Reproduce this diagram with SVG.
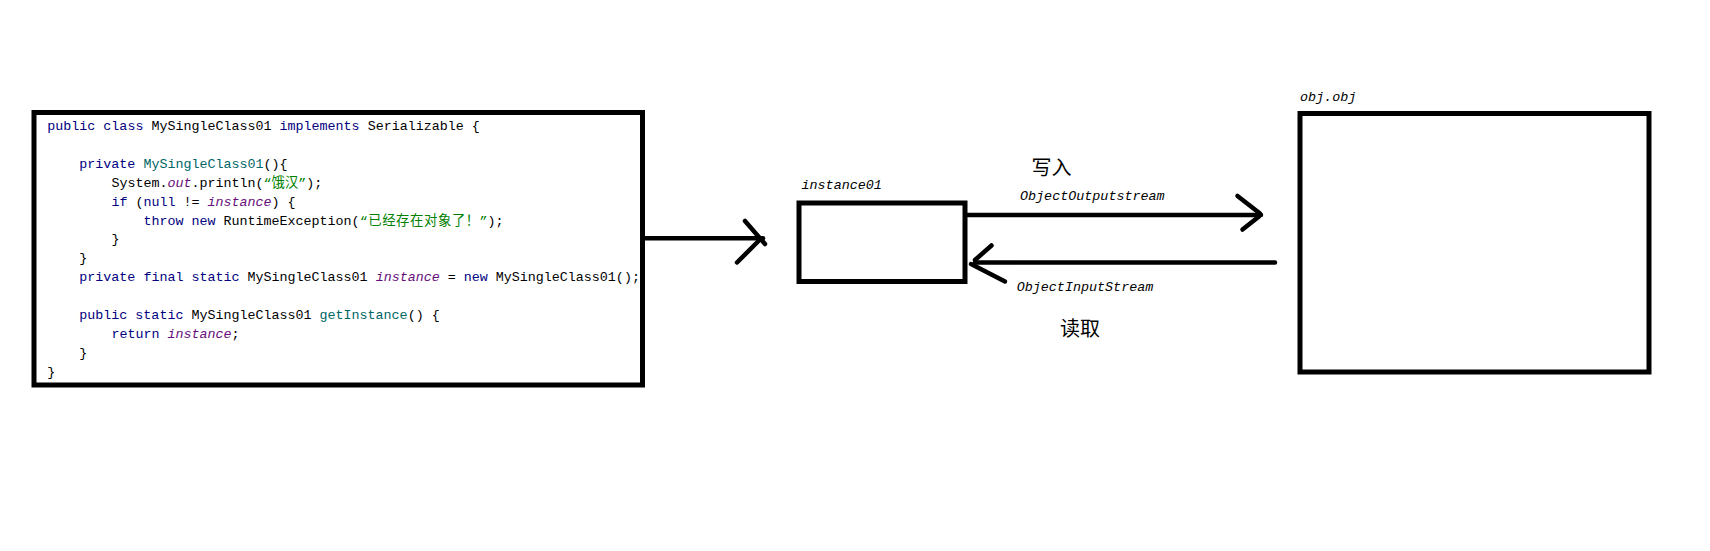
<svg xmlns="http://www.w3.org/2000/svg" width="1710" height="551" viewBox="0 0 1710 551">
<style>
.code { font-family: "Liberation Mono", "Noto Sans CJK SC", monospace; font-size: 13.35px; fill: #000; }
.kw { fill: #000080; }
.decl { fill: #006666; }
.fld { fill: #660E7A; font-style: italic; }
.str { fill: #008000; }
.lbl { font-family: "Liberation Mono", "DejaVu Sans Mono", monospace; font-style: italic; font-size: 13.4px; fill: #000; }
.cjk { font-family: "Noto Sans CJK SC", sans-serif; font-size: 20px; fill: #000; }
.box { fill: #fff; stroke: #000; stroke-width: 5; }
.conn { stroke: #000; stroke-width: 4.5; stroke-linecap: round; fill: none; }
</style>
<rect x="0" y="0" width="1710" height="551" fill="#fff"/>

<g id="node-code">
<rect class="box" x="34" y="112.5" width="608.5" height="272.5"/>
<text class="code" xml:space="preserve" x="47.3" y="130"><tspan class="kw">public</tspan> <tspan class="kw">class</tspan> MySingleClass01 <tspan class="kw">implements</tspan> Serializable {</text>
<text class="code" xml:space="preserve" x="79.3" y="167.8"><tspan class="kw">private</tspan> <tspan class="decl">MySingleClass01</tspan>(){</text>
<text class="code" xml:space="preserve" x="111.4" y="186.7">System.<tspan class="fld">out</tspan>.println(<tspan class="str">“饿汉”</tspan>);</text>
<text class="code" xml:space="preserve" x="111.4" y="205.6"><tspan class="kw">if</tspan> (<tspan class="kw">null</tspan> != <tspan class="fld">instance</tspan>) {</text>
<text class="code" xml:space="preserve" x="143.4" y="224.5"><tspan class="kw">throw</tspan> <tspan class="kw">new</tspan> RuntimeException(<tspan class="str" letter-spacing="0.6">“已经存在对象了！</tspan></text>
<text class="code" xml:space="preserve" x="479.5" y="224.5"><tspan class="str">”</tspan>);</text>
<text class="code" xml:space="preserve" x="111.4" y="243.4">}</text>
<text class="code" xml:space="preserve" x="79.3" y="262.3">}</text>
<text class="code" xml:space="preserve" x="79.3" y="281.2"><tspan class="kw">private</tspan> <tspan class="kw">final</tspan> <tspan class="kw">static</tspan> MySingleClass01 <tspan class="fld">instance</tspan> = <tspan class="kw">new</tspan> MySingleClass01();</text>
<text class="code" xml:space="preserve" x="79.3" y="319"><tspan class="kw">public</tspan> <tspan class="kw">static</tspan> MySingleClass01 <tspan class="decl">getInstance</tspan>() {</text>
<text class="code" xml:space="preserve" x="111.4" y="337.9"><tspan class="kw">return</tspan> <tspan class="fld">instance</tspan>;</text>
<text class="code" xml:space="preserve" x="79.3" y="356.8">}</text>
<text class="code" xml:space="preserve" x="47.3" y="375.7">}</text>
</g>

<g id="node-instance">
<rect class="box" x="799" y="203" width="166" height="78.5"/>
<text class="lbl" x="801.5" y="189.3" font-size="13">instance01</text>
</g>

<g id="node-objfile">
<rect class="box" x="1300" y="113.5" width="349" height="258.5"/>
<text class="lbl" x="1300" y="100.7" font-size="13.5">obj.obj</text>
</g>

<g id="connectors">
<line class="conn" x1="644" y1="238.3" x2="763" y2="238.3"/>
<line class="conn" x1="745" y1="221" x2="765" y2="244"/>
<line class="conn" x1="737" y1="262.5" x2="759" y2="240.5"/>

<line class="conn" x1="967" y1="215" x2="1261" y2="215"/>
<line class="conn" x1="1237.5" y1="196" x2="1260" y2="213.5"/>
<line class="conn" x1="1242.5" y1="229.5" x2="1259" y2="216.5"/>

<line class="conn" x1="1275" y1="262.6" x2="975" y2="262.6"/>
<line class="conn" x1="991.5" y1="245.5" x2="975" y2="260"/>
<line class="conn" x1="971" y1="264" x2="1005" y2="281.5"/>
</g>

<g id="labels">
<text class="cjk" x="1031.5" y="175">写入</text>
<text class="lbl" x="1020" y="199.5">ObjectOutputstream</text>
<text class="lbl" x="1016.7" y="291">ObjectInputStream</text>
<text class="cjk" x="1060" y="336">读取</text>
</g>
</svg>
